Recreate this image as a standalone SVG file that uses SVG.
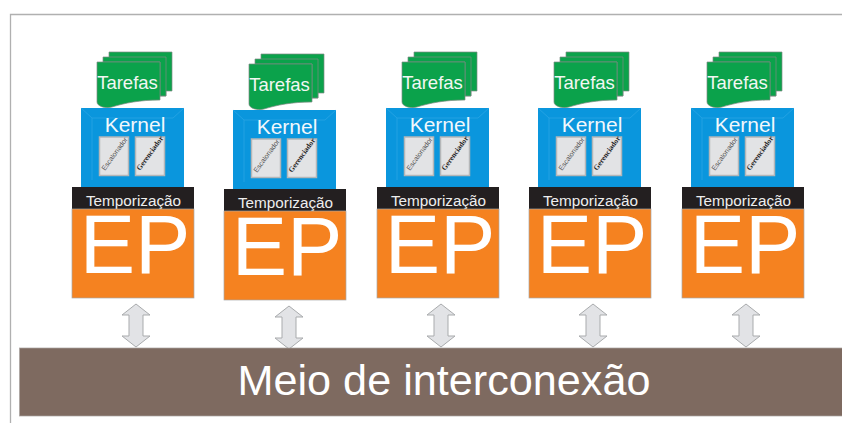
<svg xmlns="http://www.w3.org/2000/svg" width="842" height="423" viewBox="0 0 842 423">
<style>
text{font-family:"Liberation Sans",Arial,sans-serif;text-anchor:middle}
.doc{fill:#0ba24b;stroke:#7f8a84;stroke-width:.7}
.kern{fill:#0a96dd}
.bev{fill:none;stroke:#2aa4e4;stroke-width:.8}
.card{fill:#e2e3e5;stroke:#b4b6b8;stroke-width:1.5}
.t{font-size:18.500px;fill:#f2f7f3}
.k{font-size:21px;fill:#f2f8fc}
.s{font-size:7px;fill:#555;text-anchor:start}
.g{font-family:"Liberation Serif",serif;font-size:7.500px;font-weight:bold;fill:#222;text-anchor:start}
.tm{font-size:15.300px;fill:#eee}
.ep{font-size:83px;fill:#fff}
.arrow{fill:#e2e3e6;stroke:#a9abad;stroke-width:1}
</style>
<defs>
<path id="front" d="M97 62H160V100C140 100 125 103 112 107C105 109 97 106 97 102Z"/>
<g id="stack">
<path class="doc" d="M109 52H172V91H166V96H160V60H109Z"/>
<path class="doc" d="M103 57H166V96H160V62H103Z"/>
<use href="#front" class="doc"/>
</g>
<g id="kernelbox">
<rect class="kern" x="81" y="108" width="103" height="80"/>
<path class="bev" d="M81 108L92 118H173L184 108M92 118V180"/>
<rect class="card" x="99.500" y="137" width="29" height="38.500"/>
<rect class="card" x="135.500" y="137" width="29" height="38.500"/>
</g>
<path id="arr" class="arrow" d="M136 304L150 315H143V336H150L136 347L122 336H129V315H122Z"/>
</defs>
<path d="M10.500 423V14.500H842" fill="none" stroke="#b0b0b0" stroke-width="1.300"/>

<g id="connectors">
<use href="#arr"/>
<use href="#arr" x="153" y="2"/>
<use href="#arr" x="305"/>
<use href="#arr" x="457"/>
<use href="#arr" x="610"/>
</g>

<g id="node-1">
<use href="#stack"/><text class="t" x="127.500" y="89">Tarefas</text>
<use href="#kernelbox"/><text class="k" x="135" y="132">Kernel</text>
<text class="s" transform="translate(105 171) rotate(-54)">Escalonador</text>
<text class="g" transform="translate(140 171) rotate(-54)">Gerenciador</text>
<rect x="72" y="187" width="122" height="22" fill="#231f20"/><text class="tm" x="133.500" y="206">Temporização</text>
<rect x="72" y="209" width="122" height="89" fill="#f58220" stroke="#a8a8a8" stroke-width=".7"/><text class="ep" x="135" y="273">EP</text>
</g>

<g id="node-2" transform="translate(152 2)">
<use href="#stack"/><text class="t" x="127.500" y="89">Tarefas</text>
<use href="#kernelbox"/><text class="k" x="135" y="132">Kernel</text>
<text class="s" transform="translate(105 171) rotate(-54)">Escalonador</text>
<text class="g" transform="translate(140 171) rotate(-54)">Gerenciador</text>
<rect x="72" y="187" width="122" height="22" fill="#231f20"/><text class="tm" x="133.500" y="206">Temporização</text>
<rect x="72" y="209" width="122" height="89" fill="#f58220" stroke="#a8a8a8" stroke-width=".7"/><text class="ep" x="135" y="273">EP</text>
</g>

<g id="node-3" transform="translate(305 0)">
<use href="#stack"/><text class="t" x="127.500" y="89">Tarefas</text>
<use href="#kernelbox"/><text class="k" x="135" y="132">Kernel</text>
<text class="s" transform="translate(105 171) rotate(-54)">Escalonador</text>
<text class="g" transform="translate(140 171) rotate(-54)">Gerenciador</text>
<rect x="72" y="187" width="122" height="22" fill="#231f20"/><text class="tm" x="133.500" y="206">Temporização</text>
<rect x="72" y="209" width="122" height="89" fill="#f58220" stroke="#a8a8a8" stroke-width=".7"/><text class="ep" x="135" y="273">EP</text>
</g>

<g id="node-4" transform="translate(457 0)">
<use href="#stack"/><text class="t" x="127.500" y="89">Tarefas</text>
<use href="#kernelbox"/><text class="k" x="135" y="132">Kernel</text>
<text class="s" transform="translate(105 171) rotate(-54)">Escalonador</text>
<text class="g" transform="translate(140 171) rotate(-54)">Gerenciador</text>
<rect x="72" y="187" width="122" height="22" fill="#231f20"/><text class="tm" x="133.500" y="206">Temporização</text>
<rect x="72" y="209" width="122" height="89" fill="#f58220" stroke="#a8a8a8" stroke-width=".7"/><text class="ep" x="135" y="273">EP</text>
</g>

<g id="node-5" transform="translate(610 0)">
<use href="#stack"/><text class="t" x="127.500" y="89">Tarefas</text>
<use href="#kernelbox"/><text class="k" x="135" y="132">Kernel</text>
<text class="s" transform="translate(105 171) rotate(-54)">Escalonador</text>
<text class="g" transform="translate(140 171) rotate(-54)">Gerenciador</text>
<rect x="72" y="187" width="122" height="22" fill="#231f20"/><text class="tm" x="133.500" y="206">Temporização</text>
<rect x="72" y="209" width="122" height="89" fill="#f58220" stroke="#a8a8a8" stroke-width=".7"/><text class="ep" x="135" y="273">EP</text>
</g>

<g id="bus">
<rect x="19.500" y="348" width="823" height="68" fill="#7e6a60" stroke="#a8a3a0" stroke-width=".7"/>
<text x="444" y="395" font-size="43.200" fill="#fff">Meio de interconexão</text>
</g>
</svg>
